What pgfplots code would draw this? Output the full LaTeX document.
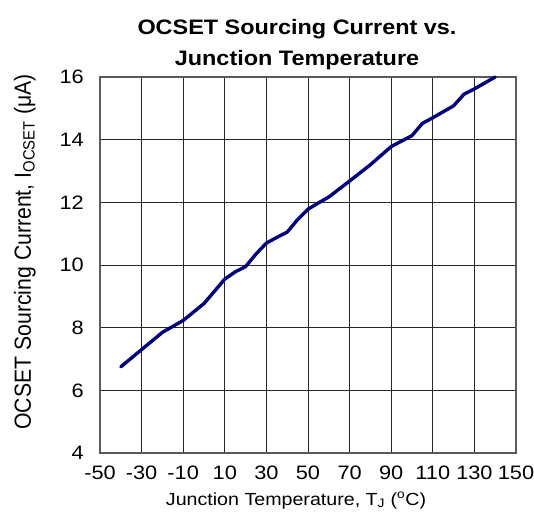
\documentclass[border=0pt]{standalone}
\usepackage{pgfplots}
\pgfplotsset{compat=1.18}
\usepackage{fontspec}
\setmainfont{Liberation Sans}
\definecolor{curve}{RGB}{0,0,128}
\begin{document}
\begin{tikzpicture}
\begin{axis}[
  name=ax,
  scale only axis,
  width=416bp, height=376bp,
  xmin=-50, xmax=150, ymin=4, ymax=16,
  xtick={-50,-30,...,150},
  ytick={4,6,...,16},
  grid=major,
  major grid style={black!85, line width=0.7pt},
  axis line style={draw=gray!70!black, line width=1.2pt},
  tick style={draw=none},
  /pgf/number format/assume math mode=true,
  ticklabel style={font=\fontsize{19.5}{21}\selectfont, xscale=1.12},
  yticklabel style={xshift=-11bp},
  xticklabel style={yshift=-9bp},
  clip=false,
]
\addplot[color=curve, line width=3.4pt, line join=round, line cap=round] coordinates {
(-40,6.75) (-30,7.30) (-20,7.85) (-10,8.23) (0,8.77) (10,9.55) (15,9.78)
(20,9.95) (25,10.35) (30,10.70) (35,10.88) (40,11.05) (45,11.45) (50,11.78)
(55,11.98) (60,12.17) (70,12.68) (80,13.20) (90,13.78) (100,14.13)
(105,14.52) (110,14.70) (120,15.08) (125,15.45) (130,15.62) (140,16.00)
};
\end{axis}
\node[anchor=base, xscale=1.12, font=\bfseries\fontsize{21}{24}\selectfont] at ([shift={(197bp,42bp)}]ax.north west) {OCSET Sourcing Current vs.};
\node[anchor=base, xscale=1.12, font=\bfseries\fontsize{21}{24}\selectfont] at ([shift={(197bp,11bp)}]ax.north west) {Junction Temperature};
\node[anchor=base, xscale=1.12, font=\fontsize{17.6}{20}\selectfont] at ([shift={(196bp,-52bp)}]ax.south west) {Junction Temperature, T\textsubscript{J} (\textsuperscript{o}C)};
\node[anchor=base, rotate=90, font=\fontsize{21.3}{24}\selectfont] at ([shift={(-69bp,201bp)}]ax.south west) {\scalebox{1}[1.1]{OCSET Sourcing Current, I\textsubscript{OCSET} (μA)}};
\pgfresetboundingbox
\path[use as bounding box] ([shift={(-100bp,-63bp)}]ax.south west) rectangle ([shift={(434bp,453bp)}]ax.south west);
\end{tikzpicture}
\end{document}
